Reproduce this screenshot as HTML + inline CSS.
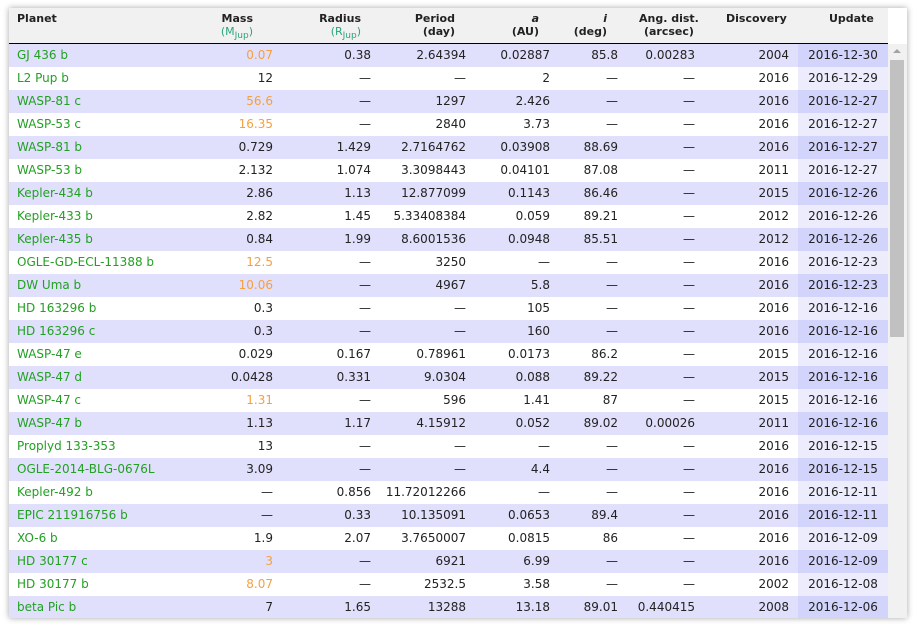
<!DOCTYPE html>
<html><head><meta charset="utf-8"><style>
body{margin:0;width:913px;height:625px;background:#fff;font-family:"DejaVu Sans","Liberation Sans",sans-serif;overflow:hidden}
#box{position:absolute;left:9px;top:8px;width:898px;height:610px;background:#fff;box-shadow:0 0 6px rgba(0,0,0,.35);overflow:hidden}
#hdr{position:absolute;left:0;top:0;width:879px;height:35px;background:#f1f1f1;border-bottom:2px solid #000}
#hdrR{position:absolute;left:879px;top:0;width:19px;height:36px;background:#fff}
.h{position:absolute;top:4px;font-size:11px;font-weight:bold;color:#222;line-height:13px}
.u{color:#2aa57a;font-weight:normal}
.row{position:absolute;left:0;width:879px;height:23px}
.c{position:absolute;top:0;line-height:23px;font-size:12px;color:#222;white-space:nowrap}
.g{color:#22a022}.o{color:#f5a040}
#sb{position:absolute;left:879px;top:36px;width:19px;height:574px;background:#f1f1f1}
#th{position:absolute;left:2px;top:16px;width:14px;height:277px;background:#c1c1c1}
#ar{position:absolute;left:5px;top:5px;width:0;height:0;border-left:4px solid transparent;border-right:4px solid transparent;border-bottom:4px solid #a3a3a3}
</style></head><body>
<div id="box">
<div id="hdr">
<div class="h" style="left:8px">Planet</div>
<div class="h" style="right:635px;text-align:right">Mass<br><span class="u">(M<sub style="font-size:9px">Jup</sub>)</span></div>
<div class="h" style="right:527px;text-align:right">Radius<br><span class="u">(R<sub style="font-size:9px">Jup</sub>)</span></div>
<div class="h" style="right:433px;text-align:right">Period<br>(day)</div>
<div class="h" style="right:349px;text-align:right"><i>a</i><br>(AU)</div>
<div class="h" style="right:281px;text-align:right"><i>i</i><br>(deg)</div>
<div class="h" style="left:630px;text-align:center">Ang. dist.<br>(arcsec)</div>
<div class="h" style="left:717px">Discovery</div>
<div class="h" style="left:820px">Update</div>
</div>
<div id="hdrR"></div>
<div id="rows"></div>
<div id="sb"><div id="ar"></div><div id="th"></div></div>
</div>
<script>
const names=["GJ 436 b","L2 Pup b","WASP-81 c","WASP-53 c","WASP-81 b","WASP-53 b","Kepler-434 b","Kepler-433 b","Kepler-435 b","OGLE-GD-ECL-11388 b","DW Uma b","HD 163296 b","HD 163296 c","WASP-47 e","WASP-47 d","WASP-47 c","WASP-47 b","Proplyd 133-353","OGLE-2014-BLG-0676L","Kepler-492 b","EPIC 211916756 b","XO-6 b","HD 30177 c","HD 30177 b","beta Pic b"];
const mass=["0.07","12","56.6","16.35","0.729","2.132","2.86","2.82","0.84","12.5","10.06","0.3","0.3","0.029","0.0428","1.31","1.13","13","3.09","—","—","1.9","3","8.07","7"];
const massOrange=[1,0,1,1,0,0,0,0,0,1,1,0,0,0,0,1,0,0,0,0,0,0,1,1,0];
const radius=["0.38","—","—","—","1.429","1.074","1.13","1.45","1.99","—","—","—","—","0.167","0.331","—","1.17","—","—","0.856","0.33","2.07","—","—","1.65"];
const period=["2.64394","—","1297","2840","2.7164762","3.3098443","12.877099","5.33408384","8.6001536","3250","4967","—","—","0.78961","9.0304","596","4.15912","—","—","11.72012266","10.135091","3.7650007","6921","2532.5","13288"];
const semi=["0.02887","2","2.426","3.73","0.03908","0.04101","0.1143","0.059","0.0948","—","5.8","105","160","0.0173","0.088","1.41","0.052","—","4.4","—","0.0653","0.0815","6.99","3.58","13.18"];
const incl=["85.8","—","—","—","88.69","87.08","86.46","89.21","85.51","—","—","—","—","86.2","89.22","87","89.02","—","—","—","89.4","86","—","—","89.01"];
const ang=["0.00283","—","—","—","—","—","—","—","—","—","—","—","—","—","—","—","0.00026","—","—","—","—","—","—","—","0.440415"];
const disc=["2004","2016","2016","2016","2016","2011","2015","2012","2012","2016","2016","2016","2016","2015","2015","2015","2011","2016","2016","2016","2016","2016","2016","2002","2008"];
const upd=["2016-12-30","2016-12-29","2016-12-27","2016-12-27","2016-12-27","2016-12-27","2016-12-26","2016-12-26","2016-12-26","2016-12-23","2016-12-23","2016-12-16","2016-12-16","2016-12-16","2016-12-16","2016-12-16","2016-12-16","2016-12-15","2016-12-15","2016-12-11","2016-12-11","2016-12-09","2016-12-09","2016-12-08","2016-12-06"];
const R=document.getElementById('rows');
function cell(row,txt,style,cls){const d=document.createElement('div');d.className='c '+(cls||'');d.style.cssText=style;d.textContent=txt;row.appendChild(d);return d;}
names.forEach((n,i)=>{
 const r=document.createElement('div');
 
 
 r.className='row';r.style.top=(36+i*23)+'px';
 r.style.background=i%2==0?'#e0e0fc':'#fff';
 const u=document.createElement('div');u.style.cssText='position:absolute;left:789px;top:0;width:90px;height:23px;background:'+(i%2==0?'#d2d4fc':'#ececfc');r.appendChild(u);
 let c;
 c=cell(r,n,'left:8px','g');
 
 
 c=cell(r,mass[i],'right:615px',massOrange[i]?'o':'');
 
 
 c=cell(r,radius[i],'right:517px');
 
 
 c=cell(r,period[i],'right:422px');
 
 
 c=cell(r,semi[i],'right:338px');
 
 
 c=cell(r,incl[i],'right:270px');
 
 
 c=cell(r,ang[i],'right:193px');
 
 
 c=cell(r,disc[i],'right:99px');
 
 
 c=cell(r,upd[i],'left:789px;width:90px;text-align:center');
 
 
 R.appendChild(r);
});
</script>
</body></html>
